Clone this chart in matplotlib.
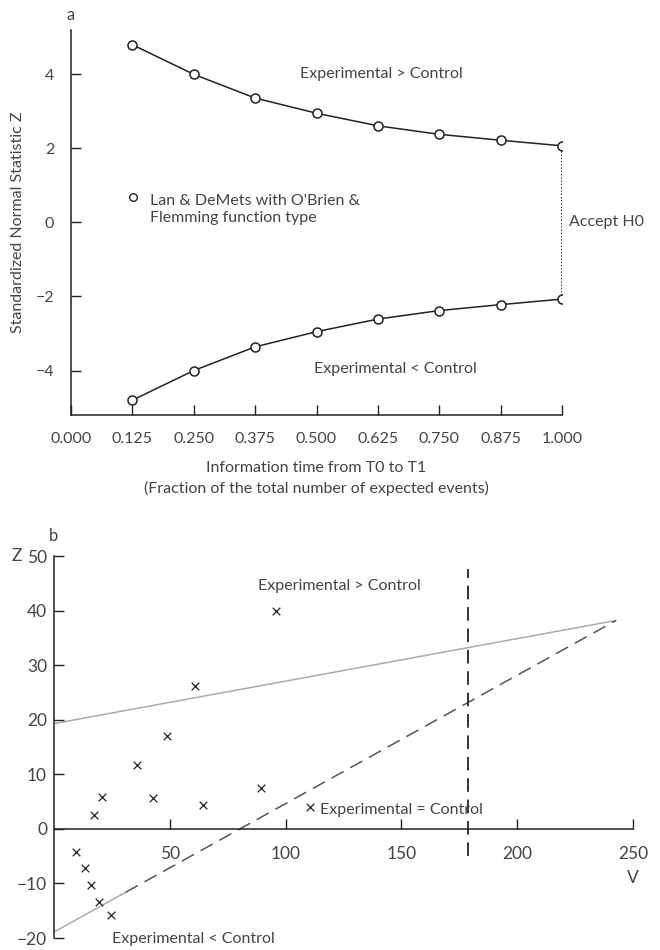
import matplotlib
import numpy as np
from matplotlib import pyplot as plt

matplotlib.use("Agg")

plt.rcParams["font.family"] = ["Lato", "DejaVu Sans"]
plt.rcParams["font.size"] = 11

TEXT_COLOR = "#444444"
LINE_COLOR = "#222222"

# panel a: group sequential boundaries
info_time = [0.125, 0.250, 0.375, 0.500, 0.625, 0.750, 0.875, 1.000]
upper_z = [4.80, 4.00, 3.36, 2.95, 2.61, 2.38, 2.22, 2.07]
lower_z = [-4.80, -4.00, -3.36, -2.95, -2.61, -2.38, -2.22, -2.07]
info_ticks = [0.000, 0.125, 0.250, 0.375, 0.500, 0.625, 0.750, 0.875, 1.000]
z_ticks = [-4, -2, 0, 2, 4]

# panel b: triangular test
obs_v = [95.7, 60.8, 48.6, 35.9, 20.6, 17.1, 42.8, 64.3, 89.2, 110.4,
         9.4, 13.2, 16.2, 19.6, 24.7]
obs_z = [40.0, 26.2, 17.1, 11.8, 5.8, 2.6, 5.6, 4.4, 7.5, 4.0,
         -4.2, -7.1, -10.3, -13.4, -15.8]
upper_line_v = [0.0, 242.7]
upper_line_z = [19.3, 38.2]
lower_solid_v = [0.0, 31.0]
lower_solid_z = [-18.9, -11.6]
lower_dash_v = [31.0, 242.7]
lower_dash_z = [-11.6, 38.2]
v_max = 179.0
v_max_z = [-4.9, 47.6]
v_ticks = [50, 100, 150, 200, 250]
zb_ticks = [-20, -10, 0, 10, 20, 30, 40, 50]

fig = plt.figure(figsize=(6.6, 9.5), dpi=100)

# ---- panel a
ax = fig.add_axes([0.1076, 0.5632, 0.744, 0.4053])
ax.plot(info_time, upper_z, color=LINE_COLOR, lw=1.1, marker="o", ms=6.5,
        mfc="white", mec=LINE_COLOR, mew=1.1, zorder=3)
ax.plot(info_time, lower_z, color=LINE_COLOR, lw=1.1, marker="o", ms=6.5,
        mfc="white", mec=LINE_COLOR, mew=1.1, zorder=3)
ax.plot([info_time[-1], info_time[-1]], [lower_z[-1], upper_z[-1]],
        color="#222222", lw=1.3, ls=(0, (0.8, 1.0)), zorder=2)
ax.set_xlim(0, 1.0)
ax.set_ylim(-5.2, 5.2)
ax.set_xticks(info_ticks)
ax.set_xticklabels([f"{t:.3f}" for t in info_ticks])
ax.set_yticks(z_ticks)
ax.set_yticklabels(["\u22124", "\u22122", "0", "2", "4"])
for side in ("top", "right"):
    ax.spines[side].set_visible(False)
for side in ("left", "bottom"):
    ax.spines[side].set_color(LINE_COLOR)
    ax.spines[side].set_linewidth(1.1)
ax.tick_params(direction="in", length=7, width=1.0, color=LINE_COLOR,
               labelcolor=TEXT_COLOR, labelsize=11.5, pad=12)
ax.set_ylabel("Standardized Normal Statistic Z", color=TEXT_COLOR, fontsize=11.5, labelpad=8)
ax.set_xlabel("Information time from T0 to T1\n(Fraction of the total number of expected events)",
              color=TEXT_COLOR, fontsize=11.5, labelpad=11, linespacing=1.5)
ax.text(0.0, 5.6, "a", ha="center", va="center", color=TEXT_COLOR, fontsize=12)
ax.text(0.633, 4.0, "Experimental > Control", ha="center", va="center", color=TEXT_COLOR, fontsize=11.5)
ax.text(0.66, -3.95, "Experimental < Control", ha="center", va="center", color=TEXT_COLOR, fontsize=11.5)
ax.text(1.015, 0.0, "Accept H0", ha="left", va="center", color=TEXT_COLOR, fontsize=11.5)
ax.plot([0.127], [0.68], marker="o", ms=5.5, mfc="white", mec=LINE_COLOR, mew=1.0, ls="none")
ax.text(0.16, 0.78, "Lan & DeMets with O'Brien &\nFlemming function type", ha="left", va="top",
        color=TEXT_COLOR, fontsize=11.5, linespacing=1.35)

# ---- panel b
bx = fig.add_axes([0.0818, 0.0126, 0.877, 0.402])
bx.plot(upper_line_v, upper_line_z, color="#aaaaaa", lw=1.1)
bx.plot(lower_solid_v, lower_solid_z, color="#aaaaaa", lw=1.1)
bx.plot(lower_dash_v, lower_dash_z, color="#555555", lw=1.1, ls=(0, (9, 5)))
bx.plot([v_max, v_max], v_max_z, color="#333333", lw=1.4, ls=(0, (7, 4)))
bx.scatter(obs_v, obs_z, marker="x", s=30, color=LINE_COLOR, linewidths=0.9, zorder=3)
bx.set_xlim(0, 250)
bx.set_ylim(-20, 50)
bx.set_xticks(v_ticks)
bx.set_yticks(zb_ticks)
bx.set_yticklabels(["\u221220", "\u221210", "0", "10", "20", "30", "40", "50"])
bx.spines["bottom"].set_position(("data", 0))
for side in ("top", "right"):
    bx.spines[side].set_visible(False)
for side in ("left", "bottom"):
    bx.spines[side].set_color(LINE_COLOR)
    bx.spines[side].set_linewidth(1.1)
bx.tick_params(direction="in", length=7, width=1.0, color=LINE_COLOR,
               labelcolor=TEXT_COLOR, labelsize=12.5)
bx.tick_params(axis="x", pad=12)
bx.tick_params(axis="y", pad=5)
bx.text(250, -9.0, "V", ha="center", va="center", color=TEXT_COLOR, fontsize=12.5)
bx.text(-16, 50, "Z", ha="center", va="center", color=TEXT_COLOR, fontsize=12.5)
bx.text(0, 53.6, "b", ha="center", va="center", color=TEXT_COLOR, fontsize=12)
bx.text(88, 44.5, "Experimental > Control", ha="left", va="center", color=TEXT_COLOR, fontsize=11.5)
bx.text(115, 3.4, "Experimental = Control", ha="left", va="center", color=TEXT_COLOR, fontsize=11.5)
bx.text(25, -20.2, "Experimental < Control", ha="left", va="center", color=TEXT_COLOR, fontsize=11.5)

fig.savefig("out.png", dpi=100)
